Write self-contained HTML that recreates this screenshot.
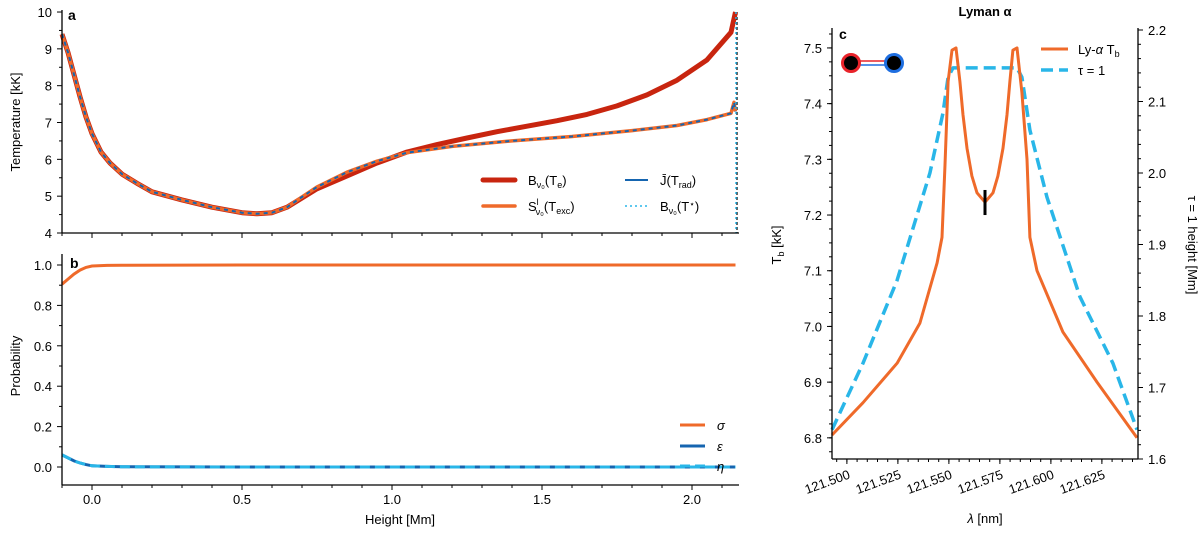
<!DOCTYPE html>
<html><head><meta charset="utf-8"><style>
body{margin:0;background:#fff}
svg text{font-family:"Liberation Sans","DejaVu Sans",sans-serif;fill:#000}
</style></head><body>
<svg id="fig" width="1200" height="530" xmlns="http://www.w3.org/2000/svg">
<g id="gA"></g>
<g id="gB"></g>
<g id="gC"></g>
</svg>
<script>
// Panel a data
const heightA=[-0.1,-0.08,-0.06,-0.04,-0.02,0,0.03,0.06,0.1,0.15,0.2,0.3,0.4,0.5,0.55,0.6,0.65,0.7,0.75,0.85,0.95,1.05,1.15,1.25,1.35,1.45,1.55,1.65,1.75,1.85,1.95,2.05,2.13,2.145];
const tempTe=[9.4,8.9,8.3,7.7,7.15,6.7,6.2,5.9,5.6,5.35,5.12,4.9,4.7,4.55,4.52,4.55,4.7,4.95,5.2,5.55,5.9,6.2,6.4,6.58,6.75,6.9,7.05,7.22,7.45,7.75,8.15,8.7,9.45,10.0];
const heightJ=[-0.1,-0.08,-0.06,-0.04,-0.02,0,0.03,0.06,0.1,0.15,0.2,0.3,0.4,0.5,0.55,0.6,0.65,0.7,0.75,0.85,0.95,1.05,1.2,1.4,1.6,1.8,1.95,2.05,2.13,2.14,2.145];
const tempJ=[9.4,8.9,8.3,7.7,7.15,6.7,6.2,5.9,5.6,5.35,5.12,4.9,4.7,4.55,4.52,4.55,4.7,4.98,5.25,5.65,5.95,6.18,6.35,6.5,6.62,6.78,6.92,7.08,7.25,7.55,7.3];
const ticksA=[4,5,6,7,8,9,10];
const ticksX=[0.0,0.5,1.0,1.5,2.0];
// Panel b data
const heightB=[-0.1,-0.08,-0.06,-0.04,-0.02,0,0.05,0.1,0.5,1.0,1.5,2.0,2.145];
const sigma=[0.905,0.93,0.955,0.975,0.988,0.995,0.998,0.999,1,1,1,1,1];
const epsilon=[0.06,0.045,0.03,0.02,0.012,0.006,0.003,0.001,0,0,0,0,0];
const ticksB=[0.0,0.2,0.4,0.6,0.8,1.0];
// Panel c data
const lam=[121.4927,121.5079,121.5246,121.5358,121.5442,121.5466,121.5481,121.5496,121.5515,121.5535,121.5554,121.5569,121.5589,121.5613,121.5638,121.5677,121.5716,121.5740,121.5765,121.5785,121.5799,121.5814,121.5834,121.5858,121.5883,121.5897,121.5932,121.6059,121.6226,121.6422];
const tb=[6.805,6.863,6.934,7.006,7.114,7.16,7.29,7.44,7.496,7.50,7.44,7.38,7.32,7.27,7.24,7.223,7.24,7.27,7.32,7.38,7.44,7.496,7.50,7.42,7.30,7.16,7.10,6.99,6.90,6.80];
const lamTau=[121.4927,121.5079,121.5246,121.5407,121.5471,121.5496,121.552,121.5834,121.5858,121.5897,121.5981,121.6142,121.6304,121.6422];
const tau=[1.641,1.734,1.85,2.0,2.084,2.134,2.147,2.147,2.134,2.06,1.966,1.827,1.734,1.641];
const ticksCx=[121.500,121.525,121.550,121.575,121.600,121.625];
const ticksCl=[6.8,6.9,7.0,7.1,7.2,7.3,7.4,7.5];
const ticksCr=[1.6,1.7,1.8,1.9,2.0,2.1,2.2];
const lineCenter=121.5677;

const NS='http://www.w3.org/2000/svg';
function mk(p,t,a,txt){const e=document.createElementNS(NS,t);for(const k in a)e.setAttribute(k,a[k]);if(txt!==undefined)e.textContent=txt;p.appendChild(e);return e;}
const xA=h=>62+(h+0.1)*300;
const yA=t=>233-(t-4)*36.83;
const yB=p=>467-p*202;
const xC=l=>832+(l-121.4927)*2040;
const yCl=t=>459-(t-6.762)*557;
const yCr=v=>459-(v-1.6)*715;
function path(xs,ys,fx,fy){return xs.map((x,i)=>(i?'L':'M')+fx(x).toFixed(1)+','+fy(ys[i]).toFixed(1)).join('');}

// Panel a
const A=document.getElementById('gA');
let e;
e=mk(A,'line',{x1:737,y1:12,x2:737,y2:233,stroke:'#000','stroke-width':1.2,'stroke-dasharray':'3,2'});

e=mk(A,'path',{d:path(heightA,tempTe,xA,yA),fill:'none',stroke:'#c8250f','stroke-width':5,'stroke-linejoin':'round'});

e=mk(A,'path',{d:path(heightJ,tempJ,xA,yA),fill:'none',stroke:'#ef6a2a','stroke-width':3.5,'stroke-linejoin':'round'});

e=mk(A,'path',{d:path(heightJ,tempJ,xA,yA),fill:'none',stroke:'#1565b0','stroke-width':2,'stroke-dasharray':'4,4'});

e=mk(A,'line',{x1:736,y1:12,x2:736,y2:233,stroke:'#29b6e8','stroke-width':1.5,'stroke-dasharray':'2,3'});

mk(A,'line',{x1:62,y1:10,x2:62,y2:233,stroke:'#000','stroke-width':1.3});
mk(A,'line',{x1:62,y1:233,x2:739,y2:233,stroke:'#000','stroke-width':1.3});
ticksA.forEach(t=>{mk(A,'line',{x1:57,y1:yA(t),x2:62,y2:yA(t),stroke:'#000'});
 e=mk(A,'text',{x:52,y:yA(t)+5,'text-anchor':'end','font-size':13},String(t));});
for(let t=4.5;t<10;t+=1)mk(A,'line',{x1:59,y1:yA(t),x2:62,y2:yA(t),stroke:'#000'});
for(let h=-0.1;h<2.15;h+=0.1){mk(A,'line',{x1:xA(h),y1:233,x2:xA(h),y2:236,stroke:'#000'});}
ticksX.forEach(h=>mk(A,'line',{x1:xA(h),y1:233,x2:xA(h),y2:238,stroke:'#000'}));
e=mk(A,'text',{x:20,y:122,'text-anchor':'middle','font-size':13,transform:'rotate(-90 20 122)'},'Temperature [kK]');

e=mk(A,'text',{x:68,y:20,'font-size':14,'font-weight':'bold'},'a');
// legend a
const LA=mk(A,'g',{});
mk(LA,'rect',{x:474,y:166,width:255,height:56,fill:'#fff'});
mk(LA,'line',{x1:483,y1:180,x2:515,y2:180,stroke:'#c8250f','stroke-width':5,'stroke-linecap':'round'});
mk(LA,'text',{x:528,y:185,'font-size':13}).innerHTML='B<tspan font-size="9" dy="3">ν₀</tspan><tspan dy="-3">(T</tspan><tspan font-size="9" dy="3">e</tspan><tspan dy="-3">)</tspan>';
mk(LA,'line',{x1:483,y1:206,x2:515,y2:206,stroke:'#ef6a2a','stroke-width':3.5,'stroke-linecap':'round'});
mk(LA,'text',{x:528,y:211,'font-size':13}).innerHTML='S<tspan font-size="9" dy="-6">l</tspan><tspan font-size="9" dx="-3" dy="10">ν₀</tspan><tspan dy="-4">(T</tspan><tspan font-size="9" dy="3">exc</tspan><tspan dy="-3">)</tspan>';
mk(LA,'line',{x1:625,y1:180,x2:648,y2:180,stroke:'#1565b0','stroke-width':2});
mk(LA,'text',{x:660,y:185,'font-size':13}).innerHTML='J̄(T<tspan font-size="9" dy="3">rad</tspan><tspan dy="-3">)</tspan>';
mk(LA,'line',{x1:625,y1:206,x2:650,y2:206,stroke:'#29b6e8','stroke-width':1.5,'stroke-dasharray':'2,3'});
mk(LA,'text',{x:660,y:211,'font-size':13}).innerHTML='B<tspan font-size="9" dy="3">ν₀</tspan><tspan dy="-3">(T</tspan><tspan font-size="9" dy="-4">⋆</tspan><tspan dy="4">)</tspan>';

// Panel b
const B=document.getElementById('gB');
e=mk(B,'path',{d:path(heightB,sigma,xA,yB),fill:'none',stroke:'#ef6a2a','stroke-width':3});

e=mk(B,'path',{d:path(heightB,epsilon,xA,yB),fill:'none',stroke:'#1565b0','stroke-width':3});

e=mk(B,'path',{d:path(heightB,epsilon,xA,yB),fill:'none',stroke:'#29b6e8','stroke-width':3,'stroke-dasharray':'10,5'});

mk(B,'line',{x1:62,y1:254,x2:62,y2:485,stroke:'#000','stroke-width':1.3});
mk(B,'line',{x1:62,y1:485,x2:739,y2:485,stroke:'#000','stroke-width':1.3});
ticksB.forEach(t=>{mk(B,'line',{x1:57,y1:yB(t),x2:62,y2:yB(t),stroke:'#000'});
 e=mk(B,'text',{x:52,y:yB(t)+5,'text-anchor':'end','font-size':13},t.toFixed(1));});
for(let t=0.1;t<1.05;t+=0.2)mk(B,'line',{x1:59,y1:yB(t),x2:62,y2:yB(t),stroke:'#000'});
for(let h=-0.1;h<2.15;h+=0.1){mk(B,'line',{x1:xA(h),y1:485,x2:xA(h),y2:488,stroke:'#000'});}
ticksX.forEach(h=>{mk(B,'line',{x1:xA(h),y1:485,x2:xA(h),y2:490,stroke:'#000'});
 e=mk(B,'text',{x:xA(h),y:504,'text-anchor':'middle','font-size':13},h.toFixed(1));});
e=mk(B,'text',{x:400,y:524,'text-anchor':'middle','font-size':13},'Height [Mm]');
e=mk(B,'text',{x:20,y:366,'text-anchor':'middle','font-size':13,transform:'rotate(-90 20 366)'},'Probability');
e=mk(B,'text',{x:70,y:268,'font-size':14,'font-weight':'bold'},'b');
const LB=mk(B,'g',{});
mk(LB,'line',{x1:680,y1:425,x2:705,y2:425,stroke:'#ef6a2a','stroke-width':3});
mk(LB,'text',{x:717,y:430,'font-size':13,'font-style':'italic'},'σ');
mk(LB,'line',{x1:680,y1:446,x2:705,y2:446,stroke:'#1565b0','stroke-width':3});
mk(LB,'text',{x:717,y:451,'font-size':13,'font-style':'italic'},'ε');
mk(LB,'line',{x1:680,y1:466,x2:705,y2:466,stroke:'#29b6e8','stroke-width':3,'stroke-dasharray':'10,5'});
mk(LB,'text',{x:717,y:471,'font-size':13,'font-style':'italic'},'η');

// Panel c
const C=document.getElementById('gC');
e=mk(C,'path',{d:path(lamTau,tau,xC,yCr),fill:'none',stroke:'#29b6e8','stroke-width':3.5,'stroke-dasharray':'12,6','stroke-linejoin':'round'});

e=mk(C,'path',{d:path(lam,tb,xC,yCl),fill:'none',stroke:'#ef6a2a','stroke-width':3,'stroke-linejoin':'round'});

e=mk(C,'line',{x1:xC(lineCenter),y1:yCl(7.245),x2:xC(lineCenter),y2:yCl(7.2),stroke:'#000','stroke-width':3});

mk(C,'line',{x1:832,y1:28,x2:832,y2:459,stroke:'#000','stroke-width':1.3});
mk(C,'line',{x1:1138,y1:28,x2:1138,y2:459,stroke:'#000','stroke-width':1.3});
mk(C,'line',{x1:832,y1:459,x2:1138,y2:459,stroke:'#000','stroke-width':1.3});
ticksCl.forEach(t=>{mk(C,'line',{x1:827,y1:yCl(t),x2:832,y2:yCl(t),stroke:'#000'});
 e=mk(C,'text',{x:822,y:yCl(t)+5,'text-anchor':'end','font-size':13},t.toFixed(1));});
for(let t=6.775;t<7.53;t+=0.025)mk(C,'line',{x1:829,y1:yCl(t),x2:832,y2:yCl(t),stroke:'#000'});
ticksCr.forEach(t=>{mk(C,'line',{x1:1138,y1:yCr(t),x2:1143,y2:yCr(t),stroke:'#000'});
 e=mk(C,'text',{x:1148,y:yCr(t)+5,'font-size':13},t.toFixed(1));});
for(let t=1.62;t<2.2;t+=0.02)mk(C,'line',{x1:1138,y1:yCr(t),x2:1141,y2:yCr(t),stroke:'#000'});
for(let l=121.495;l<121.642;l+=0.005)mk(C,'line',{x1:xC(l),y1:459,x2:xC(l),y2:462,stroke:'#000'});
ticksCx.forEach(l=>{mk(C,'line',{x1:xC(l),y1:459,x2:xC(l),y2:464,stroke:'#000'});
 e=mk(C,'text',{x:xC(l)+4,y:478,'text-anchor':'end','font-size':13,transform:`rotate(-20 ${xC(l)+4} 478)`},l.toFixed(3));});
e=mk(C,'text',{x:985,y:523,'text-anchor':'middle','font-size':13},'');e.innerHTML='<tspan font-style="italic">λ</tspan> [nm]';

e=mk(C,'text',{x:985,y:16,'text-anchor':'middle','font-size':13,'font-weight':'bold'},'Lyman α');
e=mk(C,'text',{x:781,y:245,'text-anchor':'middle','font-size':13,transform:'rotate(-90 781 245)'});e.innerHTML='T<tspan font-size="9" dy="3">b</tspan><tspan dy="-3"> [kK]</tspan>';

e=mk(C,'text',{x:1188,y:245,'text-anchor':'middle','font-size':13,transform:'rotate(90 1188 245)'},'τ = 1 height [Mm]');

e=mk(C,'text',{x:839,y:39,'font-size':14,'font-weight':'bold'},'c');
const IC=mk(C,'g',{});
mk(IC,'line',{x1:851,y1:61,x2:894,y2:61,stroke:'#e8232a','stroke-width':1.5});
mk(IC,'line',{x1:851,y1:65,x2:894,y2:65,stroke:'#1e6ee0','stroke-width':1.5});
mk(IC,'circle',{cx:851,cy:63,r:8.5,fill:'#000',stroke:'#e8232a','stroke-width':3});
mk(IC,'circle',{cx:894,cy:63,r:8.5,fill:'#000',stroke:'#1e6ee0','stroke-width':3});
const LC=mk(C,'g',{});
mk(LC,'line',{x1:1041,y1:49,x2:1068,y2:49,stroke:'#ef6a2a','stroke-width':3});
mk(LC,'text',{x:1078,y:54,'font-size':13}).innerHTML='Ly-<tspan font-style="italic">α</tspan> T<tspan font-size="9" dy="3">b</tspan>';
mk(LC,'line',{x1:1041,y1:70,x2:1068,y2:70,stroke:'#29b6e8','stroke-width':3.5,'stroke-dasharray':'12,6'});
mk(LC,'text',{x:1078,y:75,'font-size':13},'τ = 1');
</script>
</body></html>
